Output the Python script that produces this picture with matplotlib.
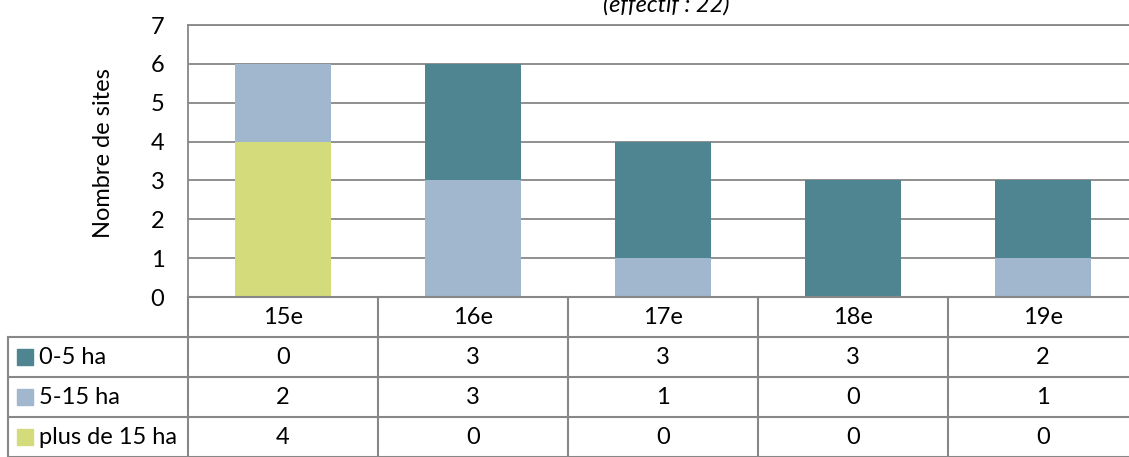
import matplotlib.pyplot as plt
import numpy as np
from matplotlib.patches import Rectangle

plt.rcParams['font.family'] = ['Lato', 'DejaVu Sans']

# données : nombre de sites par siècle et par superficie
siecles = ['15e', '16e', '17e', '18e', '19e']
series = ['0-5 ha', '5-15 ha', 'plus de 15 ha']
ha_0_5 = [0, 3, 3, 3, 2]
ha_5_15 = [2, 3, 1, 0, 1]
ha_plus_15 = [4, 0, 0, 0, 0]
couleurs = ['#4f8591', '#a1b7ce', '#d4db7b']

W, H = 1129, 457
gris = '#878787'
fs = 17

fig = plt.figure(figsize=(W / 100, H / 100), dpi=100)
ax = fig.add_axes([188 / W, 160 / H, 950 / W, 272 / H])

x = np.arange(len(siecles))
valeurs = [ha_0_5, ha_5_15, ha_plus_15]
# empilement : plus de 15 ha en bas, puis 5-15, puis 0-5
bas = np.zeros(len(siecles))
for vals, col in zip(valeurs[::-1], couleurs[::-1]):
    ax.bar(x, vals, 0.51, bottom=bas, color=col, zorder=2)
    bas += np.array(vals)

ax.set_xlim(-0.5, len(siecles) - 0.5)
ax.set_ylim(0, 7)
ax.set_yticks(range(8))
ax.set_xticks([])
ax.yaxis.grid(True, color=gris, lw=1.3)
ax.set_axisbelow(True)
ax.tick_params(axis='y', length=0, pad=17, labelsize=fs)
for s in ['left', 'top']:
    ax.spines[s].set_color(gris)
    ax.spines[s].set_linewidth(1.3)
ax.spines['right'].set_visible(False)
ax.spines['bottom'].set_visible(False)

fig.text(103 / W, 1 - 153 / H, 'Nombre de sites', rotation=90, ha='center', va='center', fontsize=fs)
fig.text(666 / W, 1 - 12 / H, '(effectif : 22)', style='italic', ha='center', va='baseline', fontsize=fs)

# tableau de données sous le graphique
tab = fig.add_axes([188 / W, 0, 950 / W, 160 / H])
tab.set_xlim(-0.5, len(siecles) - 0.5)
tab.set_ylim(4, 0)
tab.axis('off')
u = len(siecles) / 950  # une unité de x par pixel
xl = -0.5 - 180 * u

lk = dict(color=gris, lw=1.5, clip_on=False)
tab.plot([-0.5, len(siecles) - 0.5], [0, 0], **lk)
for r in range(1, 5):
    tab.plot([xl, len(siecles) - 0.5], [r, r], **lk)
tab.plot([xl, xl], [1, 4], **lk)
for i in range(len(siecles) + 1):
    tab.plot([i - 0.5, i - 0.5], [0, 4], **lk)

for i, s in enumerate(siecles):
    tab.text(i, 0.5, s, ha='center', va='center', fontsize=fs)
for r, (nom, vals, col) in enumerate(zip(series, valeurs, couleurs), start=1):
    tab.add_patch(Rectangle((xl + 9 * u, r + 0.5 - 0.19), 16 * u, 0.38, color=col, clip_on=False))
    tab.text(xl + 31 * u, r + 0.5, nom, ha='left', va='center', fontsize=fs, clip_on=False)
    for i, v in enumerate(vals):
        tab.text(i, r + 0.5, str(v), ha='center', va='center', fontsize=fs)

fig.savefig('out.png', dpi=100)
